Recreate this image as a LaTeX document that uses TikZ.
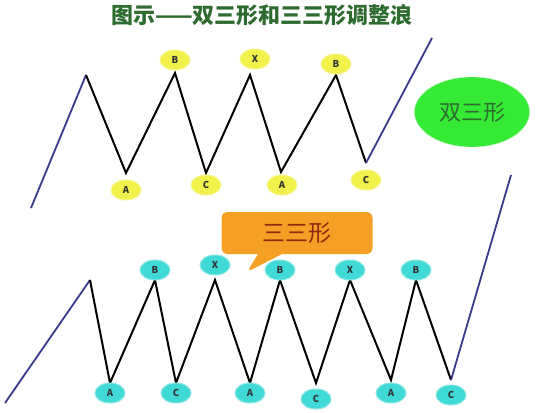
\documentclass[tikz,border=0pt]{standalone}
\usepackage{fontspec}
\newfontfamily\cjk{Noto Sans CJK SC}
\usetikzlibrary{shapes.geometric, shapes.callouts, positioning}
\definecolor{titlegreen}{HTML}{2E6B2E}
\definecolor{trendblue}{HTML}{3A3A8C}
\definecolor{ylwfill}{HTML}{F2F04A}
\definecolor{cyanfill}{HTML}{3FD9D6}
\definecolor{bigreen}{HTML}{35EA35}
\definecolor{callorange}{HTML}{F5A024}
\definecolor{callred}{HTML}{8A2A12}

\begin{document}
\begin{tikzpicture}[x=1pt, y=-1pt,
    wave/.style={line width=2pt, black, line join=miter},
    trend/.style={line width=1.8pt, trendblue},
    ylab/.style={draw=ylwfill!60!white, line width=1pt, ellipse, fill=ylwfill, minimum width=30pt, minimum height=20pt, inner sep=0pt, font=\cjk\fontsize{9.5}{9.5}\selectfont\bfseries, text=black!80},
    clab/.style={draw=cyanfill!60!white, line width=1pt, ellipse, fill=cyanfill, minimum width=30pt, minimum height=20pt, inner sep=0pt, font=\cjk\fontsize{9.5}{9.5}\selectfont\bfseries, text=black!80}]
                \useasboundingbox (0,0) rectangle (540,412);
                \fill[white] (0,0) rectangle (540,412);

                % Title
                \node[font=\cjk\fontsize{22}{22}\selectfont\bfseries, text=titlegreen] (title) at (262,15) {图示——双三形和三三形调整浪};

                % Double three: turning points
                \coordinate (ds) at (31,208);
                \coordinate (dp) at (86,75);
                \coordinate (da1) at (126,173);
                \coordinate (db1) at (175,73);
                \coordinate (dc1) at (206,173);
                \coordinate (dx) at (250,75);
                \coordinate (da2) at (281,172);
                \coordinate (db2) at (336,75);
                \coordinate (dc2) at (366,163);
                \coordinate (de) at (432,38);

                \draw[trend] (ds) -- (dp);
                \draw[wave] (dp) -- (da1) -- (db1) -- (dc1) -- (dx) -- (da2) -- (db2) -- (dc2);
                \draw[trend] (dc2) -- (de);

                \node[ylab] (ldb1) at (175,60) {B};
                \node[ylab] (ldx) at (255,59) {X};
                \node[ylab] (ldb2) at (336,64) {B};
                \node[ylab] (lda1) at (126,190) {A};
                \node[ylab] (ldc1) at (206,185) {C};
                \node[ylab] (lda2) at (282,185) {A};
                \node[ylab] (ldc2) at (366,180) {C};

                \node[draw=bigreen!50!white, ellipse, fill=bigreen, minimum width=115pt, minimum height=70pt, font=\cjk\fontsize{22}{22}\selectfont, text=titlegreen] (dtag) at (472,112) {双三形};

                % Triple three: turning points
                \coordinate (ts) at (5,403);
                \coordinate (tp) at (90,280);
                \coordinate (ta1) at (110,383);
                \coordinate (tb1) at (155,280);
                \coordinate (tc1) at (176,383);
                \coordinate (tx1) at (215,280);
                \coordinate (ta2) at (250,383);
                \coordinate (tb2) at (280,280);
                \coordinate (tc2) at (316,383);
                \coordinate (tx2) at (350,280);
                \coordinate (ta3) at (391,380);
                \coordinate (tb3) at (416,280);
                \coordinate (tc3) at (451,380);
                \coordinate (te) at (511,175);

                \draw[trend] (ts) -- (tp);
                \draw[wave] (tp) -- (ta1) -- (tb1) -- (tc1) -- (tx1) -- (ta2) -- (tb2) -- (tc2) -- (tx2) -- (ta3) -- (tb3) -- (tc3);
                \draw[trend] (tc3) -- (te);

                \node[clab] (ltb1) at (155,270) {B};
                \node[clab] (ltx1) at (215,265) {X};
                \node[clab] (ltb2) at (280,270) {B};
                \node[clab] (ltx2) at (350,270) {X};
                \node[clab] (ltb3) at (416,270) {B};
                \node[clab] (lta1) at (110,393) {A};
                \node[clab] (ltc1) at (176,393) {C};
                \node[clab] (lta2) at (250,393) {A};
                \node[clab] (ltc2) at (316,399) {C};
                \node[clab] (lta3) at (391,393) {A};
                \node[clab] (ltc3) at (451,395) {C};

                % Callout
                \node[rectangle callout, callout absolute pointer={(247,272)}, callout pointer width=24pt, rounded corners=6pt, fill=callorange, minimum width=151pt, minimum height=42pt, font=\cjk\fontsize{23}{23}\selectfont, text=callred] (ttag) at (297,233) {三三形};

            \end{tikzpicture}
\end{document}
